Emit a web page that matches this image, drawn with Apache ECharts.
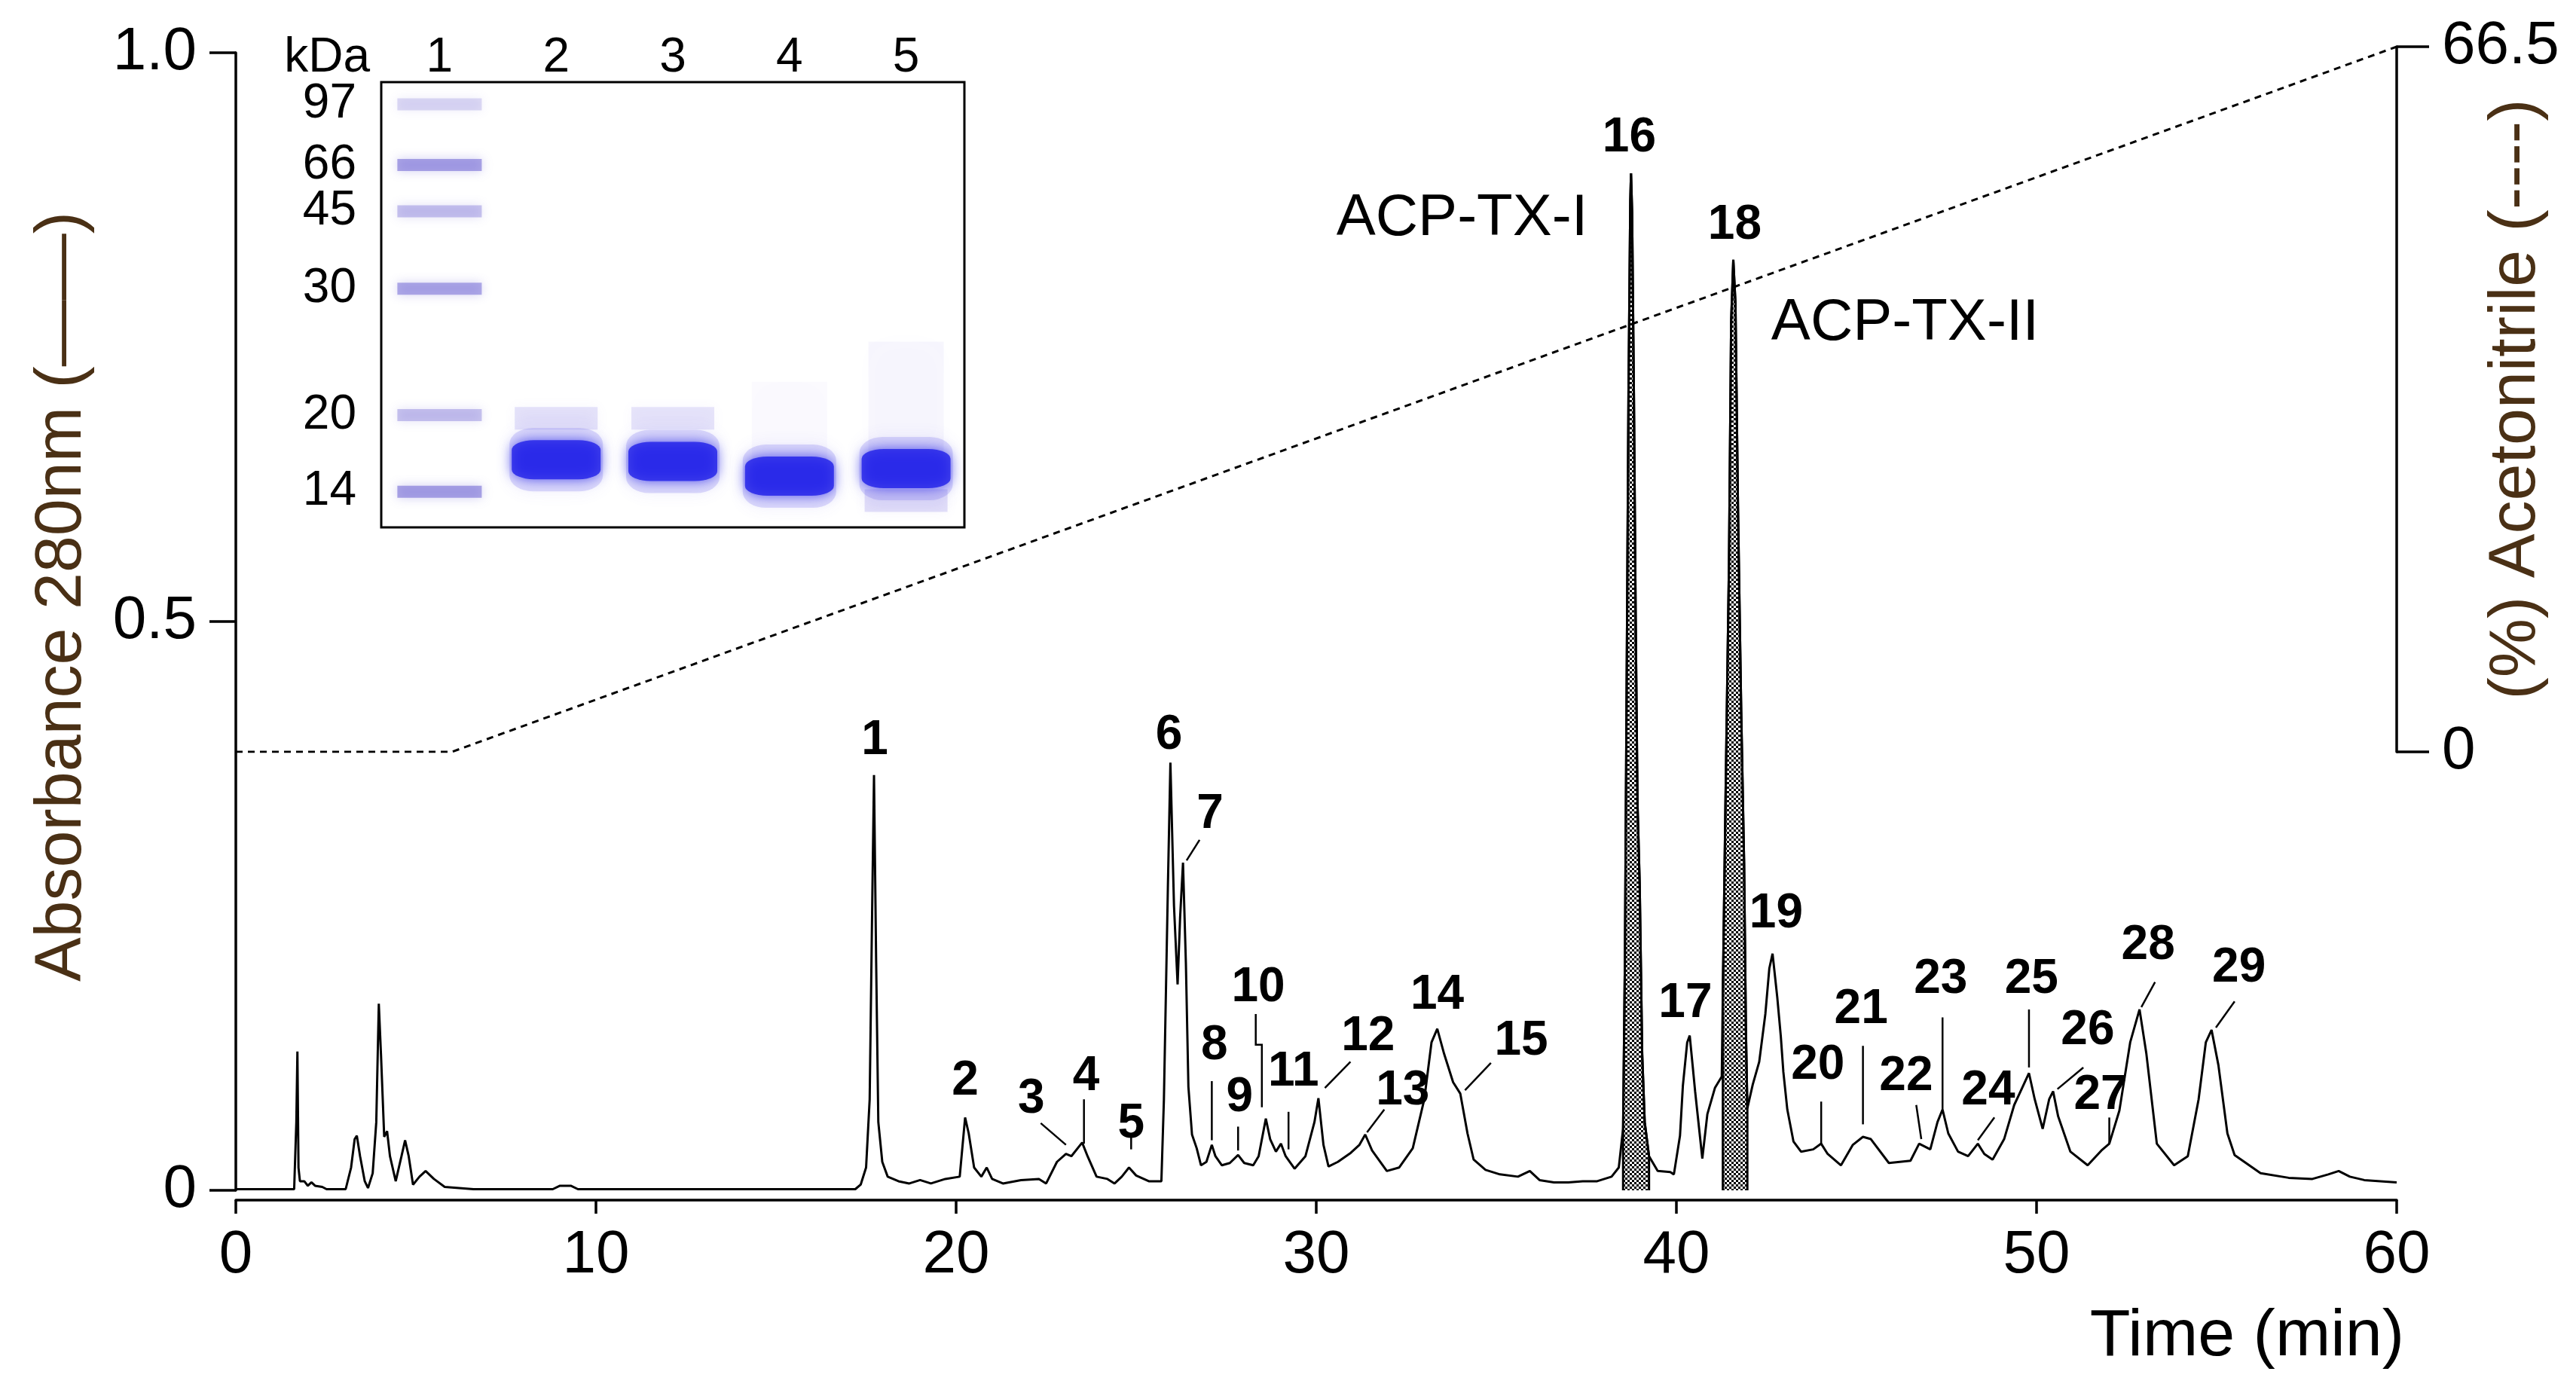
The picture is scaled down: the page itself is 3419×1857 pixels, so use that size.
<!DOCTYPE html>
<html>
<head>
<meta charset="utf-8">
<title>RP-HPLC ACP-TX</title>
<script src="https://cdn.jsdelivr.net/npm/echarts@6.0.0/dist/echarts.min.js"></script>
<style>
html, body { margin: 0; padding: 0; background: #fff; }
#chart { width: 3419px; height: 1857px; }
</style>
</head>
<body>
<div id="chart"></div>
<script>
var FONT = '"Liberation Sans", Arial, sans-serif';

// chromatogram, [time (min), absorbance 280nm]
var trace = [
  [0, 0.001], [1.62, 0.001], [1.68, 0.06], [1.71, 0.122], [1.74, 0.02], [1.78, 0.008], [1.9, 0.008],
  [2.0, 0.004], [2.1, 0.007], [2.2, 0.004], [2.4, 0.003], [2.52, 0.001], [3.05, 0.001], [3.2, 0.02],
  [3.3, 0.045], [3.36, 0.048], [3.45, 0.03], [3.58, 0.008], [3.67, 0.002], [3.8, 0.015], [3.9, 0.06],
  [3.97, 0.164], [4.03, 0.12], [4.12, 0.047], [4.2, 0.052], [4.28, 0.03], [4.44, 0.008], [4.6, 0.03],
  [4.7, 0.044], [4.8, 0.03], [4.92, 0.005], [5.1, 0.012], [5.27, 0.017], [5.5, 0.01], [5.8, 0.003],
  [6.6, 0.001], [8.8, 0.001], [9.0, 0.004], [9.3, 0.004], [9.5, 0.001], [17.2, 0.001],
  [17.35, 0.005], [17.5, 0.02], [17.6, 0.08], [17.67, 0.25], [17.72, 0.365], [17.78, 0.2], [17.84, 0.06],
  [17.95, 0.025], [18.1, 0.012], [18.4, 0.008], [18.7, 0.006], [19.0, 0.009], [19.3, 0.006], [19.7, 0.01],
  [20.1, 0.012], [20.25, 0.064], [20.35, 0.05], [20.5, 0.02], [20.7, 0.012], [20.85, 0.02], [21.0, 0.01],
  [21.3, 0.006], [21.8, 0.009], [22.3, 0.01], [22.5, 0.006], [22.8, 0.025], [23.05, 0.032], [23.2, 0.03],
  [23.5, 0.042], [23.65, 0.03], [23.9, 0.012], [24.2, 0.01], [24.4, 0.006], [24.6, 0.012], [24.8, 0.02],
  [25.0, 0.013], [25.35, 0.008], [25.7, 0.008], [25.77, 0.08], [25.88, 0.266], [25.95, 0.376], [26.05, 0.25],
  [26.15, 0.181], [26.22, 0.24], [26.3, 0.288], [26.38, 0.2], [26.45, 0.091], [26.55, 0.049], [26.68, 0.037],
  [26.8, 0.022], [26.95, 0.025], [27.1, 0.04], [27.2, 0.03], [27.38, 0.022], [27.6, 0.024], [27.83, 0.031],
  [28.0, 0.024], [28.25, 0.022], [28.4, 0.03], [28.6, 0.063], [28.72, 0.045], [28.88, 0.034], [29.02, 0.041],
  [29.15, 0.03], [29.4, 0.019], [29.7, 0.03], [29.95, 0.06], [30.06, 0.081], [30.2, 0.04], [30.34, 0.021],
  [30.6, 0.025], [30.96, 0.033], [31.2, 0.04], [31.36, 0.049], [31.55, 0.035], [31.96, 0.017], [32.3, 0.02],
  [32.68, 0.037], [33.0, 0.08], [33.2, 0.13], [33.36, 0.142], [33.55, 0.12], [33.8, 0.095], [34.0, 0.085],
  [34.2, 0.05], [34.37, 0.027], [34.7, 0.018], [35.1, 0.014], [35.6, 0.012], [35.93, 0.017], [36.2, 0.009],
  [36.6, 0.007], [37.0, 0.007], [37.4, 0.008], [37.8, 0.008], [38.2, 0.012], [38.4, 0.02], [38.52, 0.054],
  [38.57, 0.2], [38.62, 0.45], [38.67, 0.7], [38.72, 0.87], [38.74, 0.894], [38.77, 0.86], [38.82, 0.7],
  [38.87, 0.5], [38.92, 0.34], [38.98, 0.27], [39.05, 0.12], [39.12, 0.06], [39.24, 0.03], [39.48, 0.017],
  [39.83, 0.016], [39.93, 0.014], [40.1, 0.048], [40.18, 0.092], [40.3, 0.13], [40.37, 0.136], [40.45, 0.11],
  [40.52, 0.087], [40.72, 0.028], [40.86, 0.067], [41.07, 0.09], [41.26, 0.1], [41.29, 0.174], [41.36, 0.334],
  [41.46, 0.55], [41.52, 0.763], [41.58, 0.818], [41.64, 0.78], [41.71, 0.6], [41.8, 0.42], [41.88, 0.288],
  [41.93, 0.141], [41.97, 0.072], [42.12, 0.093], [42.3, 0.113], [42.47, 0.155], [42.58, 0.195], [42.67, 0.208],
  [42.8, 0.17], [42.9, 0.135], [42.97, 0.104], [43.08, 0.071], [43.25, 0.043], [43.46, 0.034], [43.8, 0.036],
  [44.02, 0.041], [44.2, 0.032], [44.57, 0.022], [44.9, 0.04], [45.18, 0.047], [45.4, 0.045], [45.9, 0.024],
  [46.5, 0.026], [46.74, 0.041], [47.05, 0.036], [47.25, 0.06], [47.39, 0.071], [47.55, 0.05], [47.82, 0.034],
  [48.1, 0.03], [48.37, 0.041], [48.55, 0.032], [48.78, 0.027], [49.1, 0.045], [49.38, 0.075], [49.6, 0.09],
  [49.79, 0.103], [49.95, 0.08], [50.17, 0.054], [50.35, 0.08], [50.46, 0.087], [50.6, 0.065], [50.94, 0.034],
  [51.42, 0.022], [51.8, 0.035], [52.02, 0.041], [52.3, 0.07], [52.6, 0.13], [52.86, 0.159], [53.05, 0.12],
  [53.34, 0.041], [53.82, 0.022], [54.2, 0.03], [54.5, 0.08], [54.7, 0.13], [54.86, 0.141], [55.05, 0.11],
  [55.3, 0.05], [55.5, 0.031], [56.22, 0.015], [57.0, 0.011], [57.66, 0.01], [58.1, 0.014], [58.39, 0.017],
  [58.7, 0.012], [59.1, 0.009], [60, 0.007]
];

// collected fractions (shaded): ACP-TX-I and ACP-TX-II
var fractionWindows = [[38.52, 39.24], [41.29, 41.97]];

// acetonitrile gradient
var gradientTime = [0, 6, 60];
var gradientPct = [0, 0, 66.5];

// peak numbers, label centre and leader line
var peakNames = ['1','2','3','4','5','6','7','8','9','10','11','12','13','14','15',
                 '16','17','18','19','20','21','22','23','24','25','26','27','28','29'];
var peakLabelT = [17.74, 20.25, 22.09, 23.61, 24.86, 25.91, 27.05, 27.17, 27.87, 28.39, 29.37, 31.44, 32.4, 33.36, 35.69,
                  38.69, 40.25, 41.62, 42.77, 43.93, 45.13, 46.38, 47.34, 48.66, 49.86, 51.42, 51.78, 53.1, 55.62];
var peakLabelA = [0.395, 0.096, 0.08, 0.1, 0.058, 0.4, 0.33, 0.127, 0.081, 0.178, 0.104, 0.135, 0.087, 0.171, 0.131,
                  0.925, 0.164, 0.848, 0.243, 0.11, 0.159, 0.1, 0.185, 0.087, 0.185, 0.14, 0.083, 0.215, 0.195];
var peakLeaders = [
  null, null,
  [[22.35, 0.059], [23.05, 0.04]],
  [[23.55, 0.08], [23.55, 0.041]],
  [[24.86, 0.048], [24.86, 0.036]],
  null,
  [[26.76, 0.308], [26.4, 0.29]],
  [[27.1, 0.096], [27.1, 0.044]],
  [[27.83, 0.056], [27.83, 0.035]],
  [[28.32, 0.155], [28.32, 0.128], [28.49, 0.128], [28.49, 0.073]],
  [[29.23, 0.069], [29.23, 0.036]],
  [[30.95, 0.113], [30.24, 0.09]],
  [[31.89, 0.071], [31.41, 0.051]],
  null,
  [[34.85, 0.112], [34.13, 0.088]],
  null, null, null, null,
  [[44.02, 0.078], [44.02, 0.041]],
  [[45.18, 0.127], [45.18, 0.058]],
  [[46.66, 0.075], [46.8, 0.045]],
  [[47.39, 0.152], [47.39, 0.071]],
  [[48.83, 0.064], [48.37, 0.044]],
  [[49.79, 0.159], [49.79, 0.108]],
  [[51.3, 0.108], [50.58, 0.089]],
  [[52.02, 0.064], [52.02, 0.041]],
  [[53.29, 0.183], [52.91, 0.161]],
  [[55.5, 0.166], [54.98, 0.143]]
];

// toxin names
var toxinNames = ['ACP-TX-I', 'ACP-TX-II'];
var toxinLabelT = [34.05, 46.35];
var toxinLabelA = [0.854, 0.762];

// SDS-PAGE inset (Rf = relative position from gel top)
var gelLanes = ['1', '2', '3', '4', '5'];
var markerKDa = [97, 66, 45, 30, 20, 14];
var markerRf = [0.05, 0.186, 0.29, 0.464, 0.748, 0.92];
var markerStain = [0.28, 0.7, 0.45, 0.65, 0.45, 0.7];
var sampleLanes = ['2', '3', '4', '5'];
var sampleRf = [0.848, 0.852, 0.885, 0.868];
var minorLanes = ['2', '3', '5'];
var minorRf = [0.755, 0.755, 0.94];
var minorStain = [0.22, 0.2, 0.25];
var smearLanes = ['4', '5'];
var smearRf = [0.8, 0.71];
var smearStain = [0.05, 0.1];

var chart = echarts.init(document.getElementById('chart'));

// checker stipple for the collected fractions
var hatch = document.createElement('canvas');
hatch.width = 6; hatch.height = 6;
var hctx = hatch.getContext('2d');
hctx.fillStyle = '#ffffff'; hctx.fillRect(0, 0, 6, 6);
hctx.fillStyle = '#000000'; hctx.fillRect(0, 0, 3, 3); hctx.fillRect(3, 3, 3, 3);

function fractionData(w) {
  var pts = trace.filter(function (p) { return p[0] >= w[0] && p[0] <= w[1]; });
  return [[w[0], 0]].concat(pts, [[w[1], 0]]);
}

function tagRenderer(names, bold, size) {
  return function (params, api) {
    var i = params.dataIndex;
    var p = api.coord([api.value(0), api.value(1)]);
    var kids = [{
      type: 'text', x: p[0], y: p[1],
      style: { text: names[i], fontSize: size, fontWeight: bold ? 'bold' : 'normal',
               fontFamily: FONT, fill: '#000', align: 'center', verticalAlign: 'middle' }
    }];
    var lead = bold ? peakLeaders[i] : null;
    if (lead) {
      kids.push({ type: 'polyline',
        shape: { points: lead.map(function (q) { return api.coord(q); }) },
        style: { stroke: '#000', lineWidth: 2.5, fill: null } });
    }
    return { type: 'group', children: kids };
  };
}

var option = {
  animation: false,
  backgroundColor: '#fff',
  grid: [
    { left: 313, right: 238, top: 70, bottom: 277, outerBoundsMode: 'none' },
    { left: 313, right: 238, top: 62, bottom: 859, outerBoundsMode: 'none' },
    { left: 506, right: 2139, top: 109, bottom: 1157, outerBoundsMode: 'none', show: true,
      backgroundColor: '#fff', borderColor: '#000', borderWidth: 3, z: 1 }
  ],
  xAxis: [
    { gridIndex: 0, type: 'value', min: 0, max: 60, interval: 10, offset: 13,
      axisLine: { onZero: false, lineStyle: { color: '#000', width: 3.5 } },
      axisTick: { inside: false, length: 18, lineStyle: { color: '#000', width: 3.5 } },
      axisLabel: { fontSize: 80, color: '#000', fontFamily: FONT, margin: 34 },
      splitLine: { show: false },
      name: 'Time (min)', nameLocation: 'end', nameGap: 10, nameMoveOverlap: false,
      nameTextStyle: { fontSize: 88, color: '#000', fontFamily: FONT, align: 'right',
                       verticalAlign: 'top', padding: [138, 0, 0, 0] } },
    { gridIndex: 1, type: 'value', min: 0, max: 60, show: false },
    { gridIndex: 2, type: 'category', data: gelLanes, position: 'top',
      axisLine: { show: false }, axisTick: { show: false },
      axisLabel: { fontSize: 64, color: '#000', fontFamily: FONT, margin: 0 } }
  ],
  yAxis: [
    { gridIndex: 0, type: 'value', min: 0, max: 1, interval: 0.5,
      axisLine: { show: true, onZero: false, lineStyle: { color: '#000', width: 3.5 } },
      axisTick: { show: true, length: 35, lineStyle: { color: '#000', width: 3.5 } },
      axisLabel: { fontSize: 80, color: '#000', fontFamily: FONT, margin: 52,
                   formatter: function (v) { return v === 0 ? '0' : v.toFixed(1); } },
      splitLine: { show: false },
      name: 'Absorbance 280nm (\u2014\u2014)', nameLocation: 'middle', nameGap: 186, nameRotate: 90,
      nameMoveOverlap: false,
      nameTextStyle: { fontSize: 88, color: '#4a3015', fontFamily: FONT, padding: [0, 0, 0, 66] } },
    { gridIndex: 1, type: 'value', min: 0, max: 66.5, interval: 66.5, position: 'right',
      axisLine: { show: true, onZero: false, lineStyle: { color: '#000', width: 3.5 } },
      axisTick: { show: true, length: 43, lineStyle: { color: '#000', width: 3.5 } },
      axisLabel: { fontSize: 80, color: '#000', fontFamily: FONT, margin: 60 },
      splitLine: { show: false },
      name: '(%) Acetonitrile (----)', nameLocation: 'middle', nameGap: 115, nameRotate: 90,
      nameMoveOverlap: false,
      nameTextStyle: { fontSize: 88, color: '#4a3015', fontFamily: FONT } },
    { gridIndex: 2, type: 'value', min: 0, max: 1, inverse: true,
      axisLine: { show: false, onZero: false }, axisTick: { show: false }, splitLine: { show: false },
      axisLabel: { fontSize: 64, color: '#000', fontFamily: FONT, margin: 33, customValues: markerRf,
                   formatter: function (v) { return String(markerKDa[markerRf.indexOf(v)]); } },
      name: 'kDa', nameLocation: 'start', nameGap: 0, nameMoveOverlap: false,
      nameTextStyle: { fontSize: 64, color: '#000', fontFamily: FONT, align: 'right',
                       verticalAlign: 'bottom', padding: [0, 15, 0, 0] } }
  ],
  series: [
    { name: 'shade-I', type: 'line', xAxisIndex: 0, yAxisIndex: 0, data: fractionData(fractionWindows[0]),
      showSymbol: false, lineStyle: { color: '#000', width: 3 },
      areaStyle: { color: { image: hatch, repeat: 'repeat' }, opacity: 1 }, z: 2 },
    { name: 'shade-II', type: 'line', xAxisIndex: 0, yAxisIndex: 0, data: fractionData(fractionWindows[1]),
      showSymbol: false, lineStyle: { color: '#000', width: 3 },
      areaStyle: { color: { image: hatch, repeat: 'repeat' }, opacity: 1 }, z: 2 },
    { name: 'A280', type: 'line', xAxisIndex: 0, yAxisIndex: 0, data: trace,
      showSymbol: false, lineStyle: { color: '#000', width: 3 }, z: 3 },
    { name: 'Acetonitrile', type: 'line', xAxisIndex: 1, yAxisIndex: 1,
      data: gradientTime.map(function (t, i) { return [t, gradientPct[i]]; }),
      showSymbol: false, lineStyle: { color: '#000', width: 3, type: [9, 7] }, z: 3 },
    { name: 'peaks', type: 'custom', xAxisIndex: 0, yAxisIndex: 0, clip: false, z: 4,
      data: peakLabelT.map(function (t, i) { return [t, peakLabelA[i]]; }),
      renderItem: tagRenderer(peakNames, true, 64) },
    { name: 'toxins', type: 'custom', xAxisIndex: 0, yAxisIndex: 0, clip: false, z: 4,
      data: toxinLabelT.map(function (t, i) { return [t, toxinLabelA[i]]; }),
      renderItem: tagRenderer(toxinNames, false, 78) },
    // gel inset
    { name: 'smear', type: 'scatter', xAxisIndex: 2, yAxisIndex: 2, symbol: 'rect', symbolSize: [100, 150],
      data: smearLanes.map(function (l, i) { return [l, smearRf[i]]; }),
      itemStyle: { color: function (p) { return 'rgba(160,140,235,' + smearStain[p.dataIndex] + ')'; },
                   shadowBlur: 40, shadowColor: 'rgba(170,150,235,0.15)' }, z: 3 },
    { name: 'markers', type: 'scatter', xAxisIndex: 2, yAxisIndex: 2, symbol: 'rect', symbolSize: [112, 16],
      data: markerRf.map(function (r) { return ['1', r]; }),
      itemStyle: { color: function (p) { return 'rgba(110,100,210,' + markerStain[p.dataIndex] + ')'; },
                   shadowBlur: 14, shadowColor: 'rgba(120,110,215,0.6)' }, z: 4 },
    { name: 'minor', type: 'scatter', xAxisIndex: 2, yAxisIndex: 2, symbol: 'rect', symbolSize: [110, 30],
      data: minorLanes.map(function (l, i) { return [l, minorRf[i]]; }),
      itemStyle: { color: function (p) { return 'rgba(120,105,225,' + minorStain[p.dataIndex] + ')'; },
                   shadowBlur: 16, shadowColor: 'rgba(130,115,230,0.35)' }, z: 4 },
    { name: 'halo', type: 'scatter', xAxisIndex: 2, yAxisIndex: 2, symbol: 'roundRect', symbolSize: [124, 84],
      data: sampleLanes.map(function (l, i) { return [l, sampleRf[i]]; }),
      itemStyle: { color: 'rgba(100,90,235,0.25)', shadowBlur: 22, shadowColor: 'rgba(100,90,235,0.45)' }, z: 4 },
    { name: 'bands', type: 'scatter', xAxisIndex: 2, yAxisIndex: 2, symbol: 'roundRect', symbolSize: [118, 52],
      data: sampleLanes.map(function (l, i) { return [l, sampleRf[i]]; }),
      itemStyle: { color: '#1f1fe8', shadowBlur: 16, shadowColor: 'rgba(30,30,230,0.85)' }, z: 5 }
  ]
};

chart.setOption(option);
</script>
</body>
</html>
